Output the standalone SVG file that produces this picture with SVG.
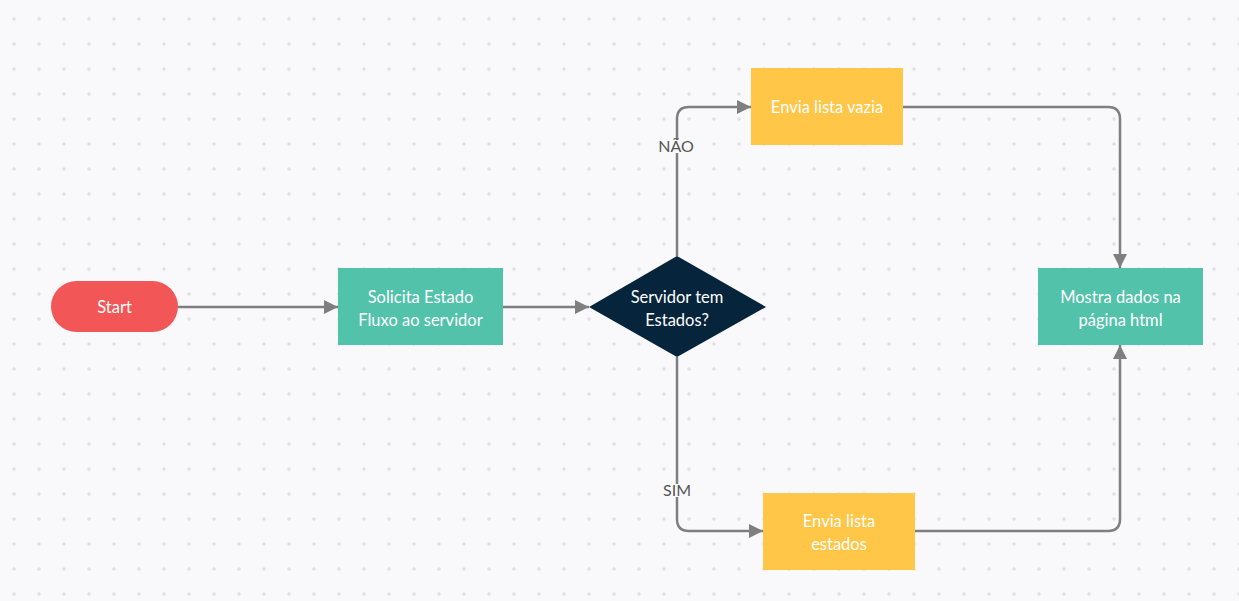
<svg xmlns="http://www.w3.org/2000/svg" width="1239" height="601" viewBox="0 0 1239 601">
<defs>
<pattern id="dots" x="0" y="0" width="25" height="25" patternUnits="userSpaceOnUse">
<circle cx="14" cy="19" r="1.7" fill="#dfdfe4"/>
</pattern>
<marker id="arr" viewBox="0 0 14 14" refX="14" refY="7" markerWidth="14" markerHeight="14" markerUnits="userSpaceOnUse" orient="auto">
<path d="M0,0 L14,7 L0,14 Z" fill="#7f7f7f"/>
</marker>
<style>
.t{font-family:Lato,"Open Sans","Liberation Sans",sans-serif;font-size:16.5px;fill:#ffffff;text-anchor:middle}
.lbl{font-family:Lato,"Open Sans","Liberation Sans",sans-serif;font-size:16px;fill:#555555;text-anchor:middle}
.c{fill:none;stroke:#7f7f7f;stroke-width:2.5;marker-end:url(#arr)}
.teal{fill:#52c2aa}
.yel{fill:#ffc648}
</style>
</defs>
<rect width="1239" height="601" fill="#f9f9fb"/>
<rect width="1239" height="601" fill="url(#dots)"/>
<g id="connectors">
<path class="c" d="M178,307 H338"/>
<path class="c" d="M503,307 H589"/>
<path class="c" d="M677,256 V119 Q677,107 689,107 H751"/>
<path class="c" d="M677,357 V519 Q677,531 689,531 H763"/>
<path class="c" d="M903,107 H1108 Q1120,107 1120,119 V268"/>
<path class="c" d="M915,531 H1108 Q1120,531 1120,519 V345"/>
<g id="label-nao">
<rect x="660" y="140" width="34" height="13" fill="#f9f9fb"/>
<text class="lbl" x="676" y="152">NÃO</text>
</g>
<g id="label-sim">
<rect x="662" y="484" width="30" height="13" fill="#f9f9fb"/>
<text class="lbl" x="677" y="496">SIM</text>
</g>
</g>
<g id="start">
<rect x="51" y="281" width="127" height="51" rx="25.5" fill="#f25656"/>
<text class="t" x="114.5" y="313">Start</text>
</g>
<g id="solicita">
<rect class="teal" x="338" y="268" width="165" height="77"/>
<text class="t" x="420.5" y="303">Solicita Estado</text>
<text class="t" x="420.5" y="326">Fluxo ao servidor</text>
</g>
<g id="servidor">
<path d="M677,256 L766,307 L677,357 L589,307 Z" fill="#06243c"/>
<text class="t" x="677" y="303">Servidor tem</text>
<text class="t" x="677" y="326">Estados?</text>
</g>
<g id="vazia">
<rect class="yel" x="751" y="68" width="152" height="77"/>
<text class="t" x="827" y="113">Envia lista vazia</text>
</g>
<g id="estados">
<rect class="yel" x="763" y="493" width="152" height="77"/>
<text class="t" x="839" y="527">Envia lista</text>
<text class="t" x="839" y="550">estados</text>
</g>
<g id="mostra">
<rect class="teal" x="1038" y="268" width="165" height="77"/>
<text class="t" x="1120.5" y="303">Mostra dados na</text>
<text class="t" x="1120.5" y="326">página html</text>
</g>
</svg>
